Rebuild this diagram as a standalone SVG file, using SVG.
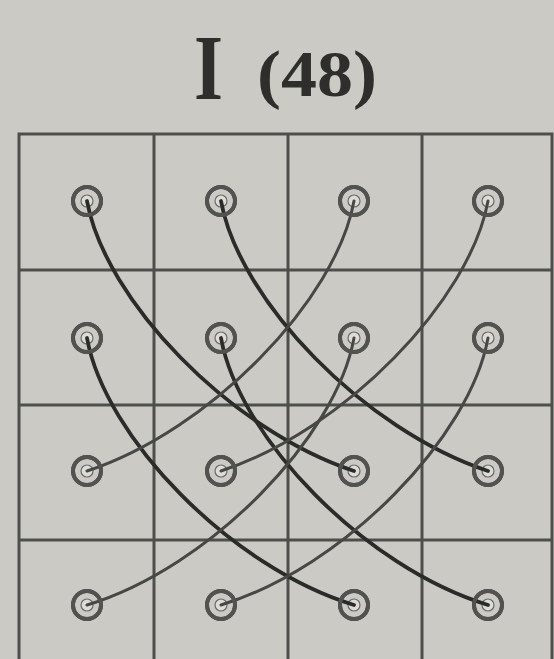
<svg xmlns="http://www.w3.org/2000/svg" width="554" height="659" viewBox="0 0 554 659">
<style>
.grid{fill:none;stroke:#4e4e4c;stroke-width:3}
.wire{fill:none;stroke:#2b2b2a;stroke-width:3.8;stroke-linecap:round}
.wire2{fill:none;stroke:#474745;stroke-width:3;stroke-linecap:round}
.ring{fill:none;stroke:#525251;stroke-width:4}
.hole{fill:#dddcd7;stroke:#6a6a68;stroke-width:1.2}
.title{font-family:"Liberation Serif","Times New Roman",serif;font-weight:bold;fill:#2e2e2d}
</style>
<defs>
<g id="eyelet">
<circle class="ring" r="14"/>
<circle class="hole" r="6"/>
</g>
</defs>
<rect x="0" y="0" width="554" height="659" fill="#cbcac5"/>
<text class="title" x="194" y="99" font-size="94" textLength="29" lengthAdjust="spacingAndGlyphs">I</text>
<text class="title" x="257" y="96" font-size="66" textLength="120" lengthAdjust="spacingAndGlyphs">(48)</text>
<g id="grid">
<rect class="grid" x="19" y="134" width="533" height="546"/>
<line class="grid" x1="154" y1="134" x2="154" y2="680"/>
<line class="grid" x1="288" y1="134" x2="288" y2="680"/>
<line class="grid" x1="422" y1="134" x2="422" y2="680"/>
<line class="grid" x1="19" y1="270" x2="552" y2="270"/>
<line class="grid" x1="19" y1="405" x2="552" y2="405"/>
<line class="grid" x1="19" y1="540" x2="552" y2="540"/>
</g>
<g id="nodes-under">
<use href="#eyelet" x="87" y="201"/><use href="#eyelet" x="221" y="201"/><use href="#eyelet" x="354" y="201"/><use href="#eyelet" x="488" y="201"/>
<use href="#eyelet" x="87" y="338"/><use href="#eyelet" x="221" y="338"/><use href="#eyelet" x="354" y="338"/><use href="#eyelet" x="488" y="338"/>
<use href="#eyelet" x="87" y="471"/><use href="#eyelet" x="221" y="471"/><use href="#eyelet" x="354" y="471"/><use href="#eyelet" x="488" y="471"/>
<use href="#eyelet" x="87" y="605"/><use href="#eyelet" x="221" y="605"/><use href="#eyelet" x="354" y="605"/><use href="#eyelet" x="488" y="605"/>
</g>
<g id="connectors">
<path class="wire" d="M87,201 C105,300 230,430 354,471"/>
<path class="wire" d="M221,201 C239,300 364,430 488,471"/>
<path class="wire" d="M87,338 C105,437 230,567 354,605"/>
<path class="wire" d="M221,338 C239,437 364,567 488,605"/>
<path class="wire2" d="M488,201 C470,300 345,430 221,471"/>
<path class="wire2" d="M354,201 C336,300 211,430 87,471"/>
<path class="wire2" d="M488,338 C470,437 345,567 221,605"/>
<path class="wire2" d="M354,338 C336,437 211,567 87,605"/>
</g>
<g id="n11"><circle class="ring" cx="87" cy="201" r="14"/></g>
<g id="n12"><circle class="ring" cx="221" cy="201" r="14"/></g>
<g id="n13"><circle class="ring" cx="354" cy="201" r="14"/></g>
<g id="n14"><circle class="ring" cx="488" cy="201" r="14"/></g>
<g id="n21"><circle class="ring" cx="87" cy="338" r="14"/></g>
<g id="n22"><circle class="ring" cx="221" cy="338" r="14"/></g>
<g id="n23"><circle class="ring" cx="354" cy="338" r="14"/></g>
<g id="n24"><circle class="ring" cx="488" cy="338" r="14"/></g>
<g id="n31"><circle class="ring" cx="87" cy="471" r="14"/></g>
<g id="n32"><circle class="ring" cx="221" cy="471" r="14"/></g>
<g id="n33"><circle class="ring" cx="354" cy="471" r="14"/></g>
<g id="n34"><circle class="ring" cx="488" cy="471" r="14"/></g>
<g id="n41"><circle class="ring" cx="87" cy="605" r="14"/></g>
<g id="n42"><circle class="ring" cx="221" cy="605" r="14"/></g>
<g id="n43"><circle class="ring" cx="354" cy="605" r="14"/></g>
<g id="n44"><circle class="ring" cx="488" cy="605" r="14"/></g>
</svg>
